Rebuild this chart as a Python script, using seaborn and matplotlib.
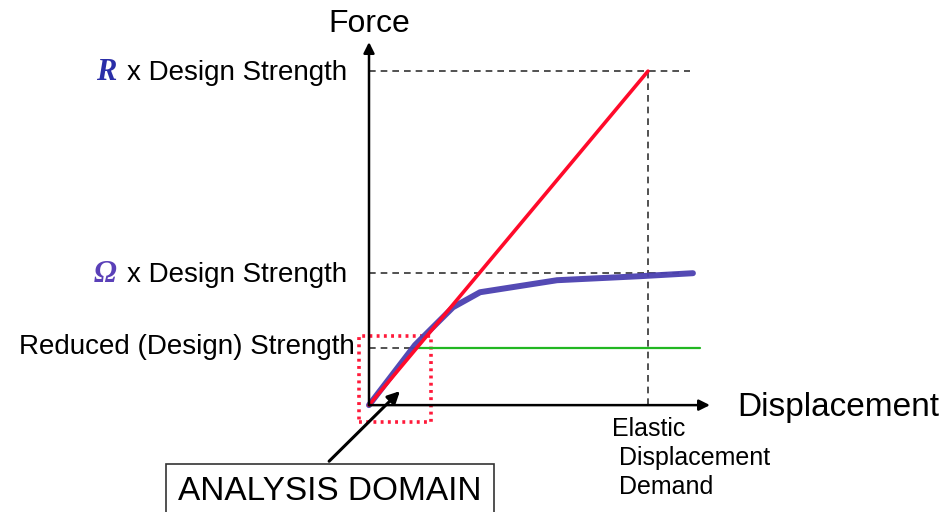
import matplotlib
matplotlib.use("Agg")
import matplotlib.pyplot as plt
import seaborn as sns
from matplotlib.patches import Rectangle

# idealised elastic response and actual (yielding) response
disp_elastic = [0, 100]
force_elastic = [0, 100]
disp_actual = [0, 16.5, 30.1, 39.8, 67.4, 97.1, 116.1]
force_actual = [0, 18.0, 29.3, 33.8, 37.4, 38.6, 39.5]

# reference levels
r_force = 100
omega_force = 39.5
design_force = 17.1
elastic_demand = 100
green_start, green_end = 15.4, 118.6

sns.set_style("white")
plt.rcParams['font.family'] = ['Liberation Sans', 'DejaVu Sans']
plt.rcParams['text.color'] = 'black'

fig = plt.figure(figsize=(9.45, 5.12), dpi=100)
ax = fig.add_axes([0, 0, 1, 1])
ax.set_xlim(-132.26, 206.45)
ax.set_ylim(-32.0, 121.3)
ax.axis('off')

dash = dict(color='#333333', lw=1.2, ls=(0, (4, 3)))
# dashed guide lines
ax.plot([0, 115], [r_force, r_force], **dash)
ax.plot([elastic_demand, elastic_demand], [0, r_force], **dash)
ax.plot([0, 112.5], [omega_force, omega_force], **dash)
ax.plot([0, green_start], [design_force, design_force], **dash)

# reduced strength level
ax.plot([green_start, green_end], [design_force, design_force], color='#22b722', lw=1.6)

sns.lineplot(x=disp_actual, y=force_actual, ax=ax, color='#4b40b0', lw=4.3, alpha=0.95)
sns.lineplot(x=disp_elastic, y=force_elastic, ax=ax, color='#ff0a2a', lw=2.6)

# axes with arrows
ax.annotate('', xy=(122.2, 0), xytext=(0, 0),
            arrowprops=dict(arrowstyle='-|>', lw=1.8, color='black', mutation_scale=16, shrinkA=0, shrinkB=0))
ax.annotate('', xy=(0, 108.7), xytext=(0, 0),
            arrowprops=dict(arrowstyle='-|>', lw=1.8, color='black', mutation_scale=16, shrinkA=0, shrinkB=0))

ax.annotate('Force', xy=(0, 108.7), xytext=(0, 18), textcoords='offset pixels',
            ha='center', va='center', fontsize=23)
ax.annotate('Displacement', xy=(122.2, 0), xytext=(27, -2), textcoords='offset pixels',
            ha='left', va='center', fontsize=24)

# strength labels
for lvl, sym, col in [(r_force, 'R', '#2a2ea8'), (omega_force, 'Ω', '#5a40b8')]:
    ax.annotate('x Design Strength', xy=(0, lvl), xytext=(-22, -2), textcoords='offset pixels',
                ha='right', va='center', fontsize=20)
    ax.annotate(sym, xy=(0, lvl), xytext=(-253, -1), textcoords='offset pixels',
                ha='right', va='center', fontsize=22, color=col,
                family='Liberation Serif', fontweight='bold', fontstyle='italic')
ax.annotate('Reduced (Design) Strength', xy=(0, design_force), xytext=(-14, 1), textcoords='offset pixels',
            ha='right', va='center', fontsize=20)

ax.annotate('Elastic\n Displacement\n Demand', xy=(elastic_demand, 0), xytext=(-36, -12),
            textcoords='offset pixels', ha='left', va='top', fontsize=18, linespacing=1.25)

# analysis domain box
ax.add_patch(Rectangle((-3.6, -5.1), 25.8, 25.8, fill=False, edgecolor='#ff1a3a',
                       lw=2.6, ls=(0, (0.8, 1.2))))
ax.annotate('', xy=(11.1, 4.2), xytext=(-14.3, -16.8),
            arrowprops=dict(arrowstyle='-|>', lw=2.2, color='black', mutation_scale=18, shrinkA=0, shrinkB=0))
ax.annotate('ANALYSIS DOMAIN', xy=(-14.3, -16.8), xytext=(1, -30), textcoords='offset pixels',
            ha='center', va='center', fontsize=24,
            bbox=dict(boxstyle='square,pad=0.36', fc='white', ec='#333333', lw=1.2))

fig.savefig('out.png', dpi=100)
